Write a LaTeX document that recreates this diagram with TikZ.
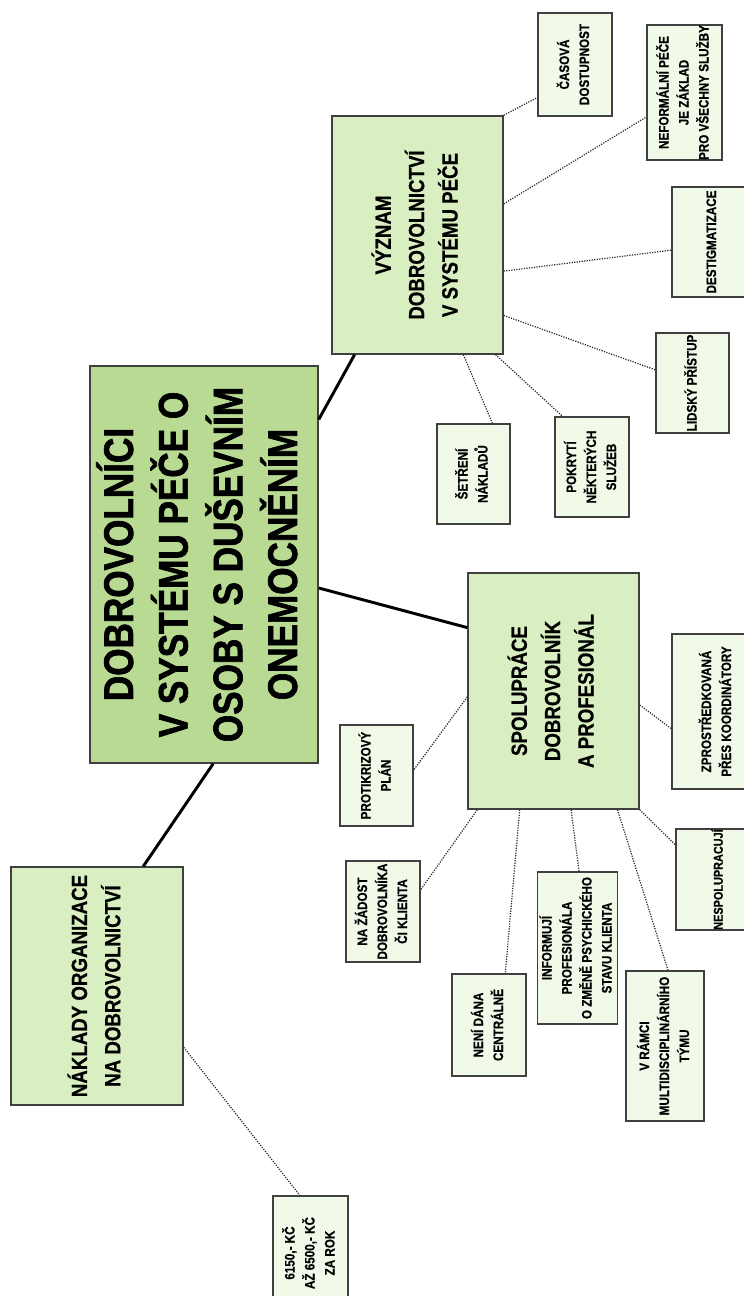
\documentclass[tikz,border=0pt]{standalone}
\usepackage{fontspec}
\setmainfont{Liberation Sans}[FakeStretch=0.85, BoldFeatures={FakeBold=0.6}]
\newfontfamily\heavyfont{Liberation Sans}[FakeStretch=0.85, BoldFeatures={FakeBold=1.6}]
\usetikzlibrary{calc}
\definecolor{maingreen}{HTML}{B8DA93}
\definecolor{midgreen}{HTML}{D9EFC2}
\definecolor{lightgreen}{HTML}{F1FAE8}
\definecolor{edge}{HTML}{404040}
\newcommand\bx[7]{%
  \node[#6, minimum width={(#4-#2)*0.75pt}, minimum height={(#5-#3)*0.75pt}] (#1)
    at ({(#2+#4)/2},{(#3+#5)/2}) {\rotatebox{90}{\begin{tabular}{@{}c@{}}#7\end{tabular}}};}
\newcommand\ep[3]{($(#1)!#3!(#2)$)}
\tikzset{
  boxbase/.style={draw=edge, line width=1.1pt, inner sep=0pt, rectangle},
  mainbox/.style={boxbase, fill=maingreen, font=\heavyfont\fontsize{31}{41}\selectfont\bfseries},
  midbox/.style={boxbase, fill=midgreen, font=\fontsize{16.5}{25}\selectfont\bfseries},
  leafbox/.style={boxbase, fill=lightgreen, font=\fontsize{10.3}{15}\selectfont\bfseries},
  smallleaf/.style={leafbox, font=\fontsize{9.6}{14}\selectfont\bfseries},
  thick link/.style={draw=black, line width=2.2pt},
  dot link/.style={draw=black!85, densely dotted, line width=0.9pt}
}
\begin{document}
\begin{tikzpicture}[x=0.75pt,y=-0.75pt]
\useasboundingbox (0,0) rectangle (743,1296);
% main and topic boxes
\bx{main}{90}{366}{318}{763}{mainbox}{DOBROVOLNÍCI\\V SYSTÉMU PÉČE O\\OSOBY S DUŠEVNÍM\\ONEMOCNĚNÍM}
\bx{vyz}{332}{116}{503}{354}{midbox}{VÝZNAM\\DOBROVOLNICTVÍ\\V SYSTÉMU PÉČE}
\bx{spol}{468}{573}{639}{809}{midbox}{SPOLUPRÁCE\\DOBROVOLNÍK\\A PROFESIONÁL}
\bx{nakl}{11}{867}{183}{1105}{midbox}{NÁKLADY ORGANIZACE\\NA DOBROVOLNICTVÍ}
% leaves of vyz
\bx{cas}{538}{13}{612}{116}{leafbox}{ČASOVÁ\\DOSTUPNOST}
\bx{nef}{647}{25}{722}{160}{leafbox}{NEFORMÁLNÍ PÉČE\\JE ZÁKLAD\\PRO VŠECHNY SLUŽBY}
\bx{des}{672}{187}{752}{297}{leafbox}{DESTIGMATIZACE}
\bx{lid}{656}{333}{729}{433}{leafbox}{LIDSKÝ PŘÍSTUP}
\bx{set}{437}{424}{510}{524}{leafbox}{ŠETŘENÍ\\NÁKLADŮ}
\bx{pok}{555}{417}{629}{517}{leafbox}{POKRYTÍ\\NĚKTERÝCH\\SLUŽEB}
% leaves of spol
\bx{prot}{340}{725}{413}{826}{leafbox}{PROTIKRIZOVÝ\\PLÁN}
\bx{zpr}{672}{634}{762}{789}{leafbox}{ZPROSTŘEDKOVANÁ\\PŘES KOORDINÁTORY}
\bx{nesp}{676}{829}{762}{930}{smallleaf}{NESPOLUPRACUJÍ}
\bx{zad}{346}{861}{420}{962}{leafbox}{NA ŽÁDOST\\DOBROVOLNÍKA\\ČI KLIENTA}
\bx{neni}{452}{974}{526}{1076}{leafbox}{NENÍ DÁNA\\CENTRÁLNĚ}
\bx{inf}{538}{872}{617}{1024}{leafbox}{INFORMUJÍ\\PROFESIONÁLA\\O ZMĚNĚ PSYCHICKÉHO\\STAVU KLIENTA}
\bx{ram}{626}{971}{704}{1121}{leafbox}{V RÁMCI\\MULTIDISCIPLINÁRNÍHO\\TÝMU}
% leaf of nakl
\bx{kc}{273}{1196}{348}{1310}{leafbox}{6150,- KČ\\AŽ 6500,- KČ\\ZA ROK}
% thick links
\draw[thick link] \ep{main.north east}{main.south east}{0.136} -- \ep{vyz.south west}{vyz.south east}{0.135};
\draw[thick link] \ep{main.north east}{main.south east}{0.559} -- \ep{spol.north west}{spol.south west}{0.233};
\draw[thick link] \ep{main.south west}{main.south east}{0.54} -- \ep{nakl.north west}{nakl.north east}{0.767};
% dotted links from vyz
\draw[dot link] (vyz.north east) -- \ep{cas.north west}{cas.south west}{0.816};
\draw[dot link] \ep{vyz.north east}{vyz.south east}{0.37} -- \ep{nef.north west}{nef.south west}{0.68};
\draw[dot link] \ep{vyz.north east}{vyz.south east}{0.651} -- \ep{des.north west}{des.south west}{0.573};
\draw[dot link] \ep{vyz.north east}{vyz.south east}{0.836} -- \ep{lid.north west}{lid.south west}{0.37};
\draw[dot link] \ep{vyz.south west}{vyz.south east}{0.766} -- \ep{set.north west}{set.north east}{0.753};
\draw[dot link] \ep{vyz.south west}{vyz.south east}{0.953} -- \ep{pok.north west}{pok.north east}{0.108};
% dotted links from spol
\draw[dot link] \ep{spol.north west}{spol.south west}{0.525} -- \ep{prot.north east}{prot.south east}{0.446};
\draw[dot link] \ep{spol.north east}{spol.south east}{0.559} -- \ep{zpr.north west}{zpr.south west}{0.609};
\draw[dot link] (spol.south east) -- \ep{nesp.north west}{nesp.south west}{0.16};
\draw[dot link] \ep{spol.south west}{spol.south east}{0.058} -- \ep{zad.north east}{zad.south east}{0.287};
\draw[dot link] \ep{spol.south west}{spol.south east}{0.304} -- \ep{neni.north west}{neni.north east}{0.716};
\draw[dot link] \ep{spol.south west}{spol.south east}{0.602} -- \ep{inf.north west}{inf.north east}{0.519};
\draw[dot link] \ep{spol.south west}{spol.south east}{0.871} -- \ep{ram.north west}{ram.north east}{0.538};
% dotted link from nakl
\draw[dot link] \ep{nakl.north east}{nakl.south east}{0.756} -- \ep{kc.north west}{kc.north east}{0.36};
\end{tikzpicture}
\end{document}
